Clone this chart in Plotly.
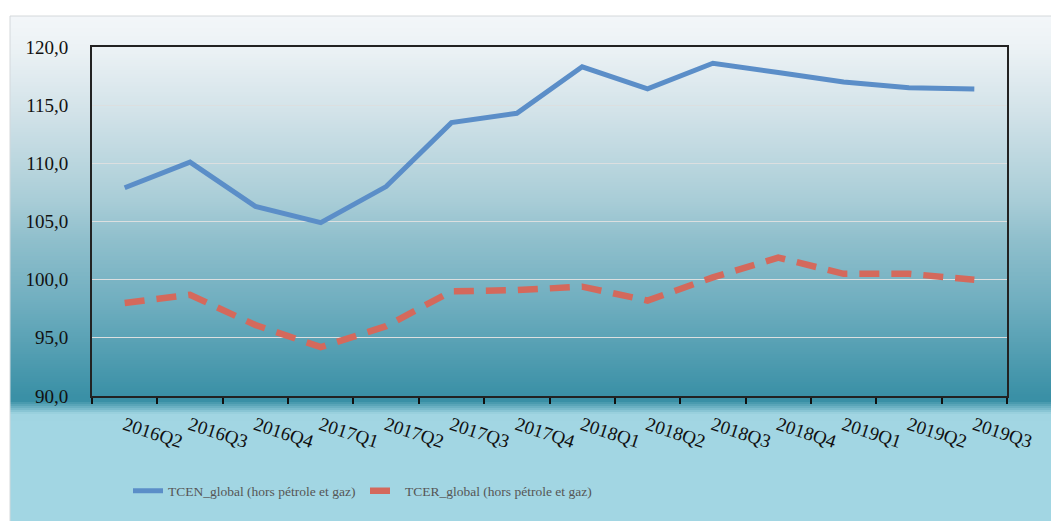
import plotly.graph_objects as go

quarters = ["2016Q2", "2016Q3", "2016Q4", "2017Q1", "2017Q2", "2017Q3", "2017Q4",
            "2018Q1", "2018Q2", "2018Q3", "2018Q4", "2019Q1", "2019Q2", "2019Q3"]
tcen = [107.9, 110.1, 106.3, 104.9, 108.0, 113.5, 114.3,
        118.3, 116.4, 118.6, 117.8, 117.0, 116.5, 116.4]
tcer = [98.0, 98.7, 96.1, 94.2, 96.0, 99.0, 99.1,
        99.4, 98.2, 100.2, 101.9, 100.5, 100.5, 100.0]
name_tcen = "TCEN_global (hors pétrole et gaz)"
name_tcer = "TCER_global (hors pétrole et gaz)"

W, H = 1051, 521
L, R, T, B = 92, 44, 47, 125
PW, PH = W - L - R, H - T - B


def xp(px):
    return (px - L) / PW


def yp(py):
    return (H - B - py) / PH


def hex2rgb(h):
    h = h.lstrip("#")
    return [int(h[i:i + 2], 16) for i in (0, 2, 4)]


stops = [(16, "#f3f6f9"), (47, "#ecf2f5"), (110, "#d3e3e9"), (200, "#a9cdd7"),
         (240, "#8fbfcc"), (300, "#71afc0"), (396, "#3a90a6"), (401, "#3a90a6"),
         (414, "#a1d5e2"), (521, "#a2d6e3")]


def color_at(py):
    for (y0, c0), (y1, c1) in zip(stops[:-1], stops[1:]):
        if y0 <= py <= y1:
            t = (py - y0) / (y1 - y0) if y1 > y0 else 0
            a, b = hex2rgb(c0), hex2rgb(c1)
            return "rgb(%d,%d,%d)" % tuple(round(a[i] + (b[i] - a[i]) * t) for i in range(3))
    return stops[-1][1]


shapes = []
step = 2
y = 16
while y < 421:
    shapes.append(dict(type="rect", xref="paper", yref="paper", layer="below",
                       x0=xp(10), x1=xp(W + 2), y0=yp(y + step + 0.5), y1=yp(y),
                       fillcolor=color_at(y + step / 2), line=dict(width=0)))
    y += step
shapes.append(dict(type="rect", xref="paper", yref="paper", layer="below",
                   x0=xp(10), x1=xp(W + 2), y0=yp(H + 2), y1=yp(421),
                   fillcolor="#a2d6e3", line=dict(width=0)))
shapes.append(dict(type="rect", xref="paper", yref="paper", layer="below",
                   x0=xp(10), x1=xp(W + 5), y0=yp(H + 5), y1=yp(16),
                   fillcolor="rgba(0,0,0,0)", line=dict(color="#d4d8db", width=1)))

fig = go.Figure()
fig.add_trace(go.Scatter(x=quarters, y=tcen, mode="lines", name=name_tcen,
                         line=dict(color="#5b8ec8", width=5)))
fig.add_trace(go.Scatter(x=quarters, y=tcer, mode="lines", name=name_tcer,
                         line=dict(color="#d4695c", width=6.5, dash="20px,12px")))

fig.update_layout(
    width=W, height=H,
    margin=dict(l=L, r=R, t=T, b=B),
    paper_bgcolor="white",
    plot_bgcolor="rgba(0,0,0,0)",
    separators=", ",
    shapes=shapes,
    showlegend=True,
    legend=dict(orientation="h", x=xp(128), xanchor="left", y=yp(491), yanchor="middle",
                bgcolor="rgba(0,0,0,0)",
                font=dict(family="Liberation Serif", size=13.5, color="#555555"),
                entrywidth=192, entrywidthmode="pixels"),
    xaxis=dict(type="category", tickson="boundaries", ticks="outside", ticklen=6,
               tickwidth=1.5, tickcolor="#111111", tickangle=18,
               ticklabelstandoff=9,
               tickfont=dict(family="Liberation Serif", size=19, color="#111111"),
               showline=True, linecolor="#222222", linewidth=2, mirror=True,
               showgrid=False, range=[-0.5, 13.5]),
    yaxis=dict(range=[90, 120], dtick=5, tickformat=".1f", ticks="",
               ticklabelstandoff=18,
               tickfont=dict(family="Liberation Serif", size=19, color="#111111"),
               showline=True, linecolor="#222222", linewidth=2, mirror=True,
               showgrid=True, gridcolor="#dcdfe0", gridwidth=1, zeroline=False),
)

fig.write_html("out.html", config={"displayModeBar": False},
               post_script="document.body.style.margin='0';document.body.style.padding='0';")
